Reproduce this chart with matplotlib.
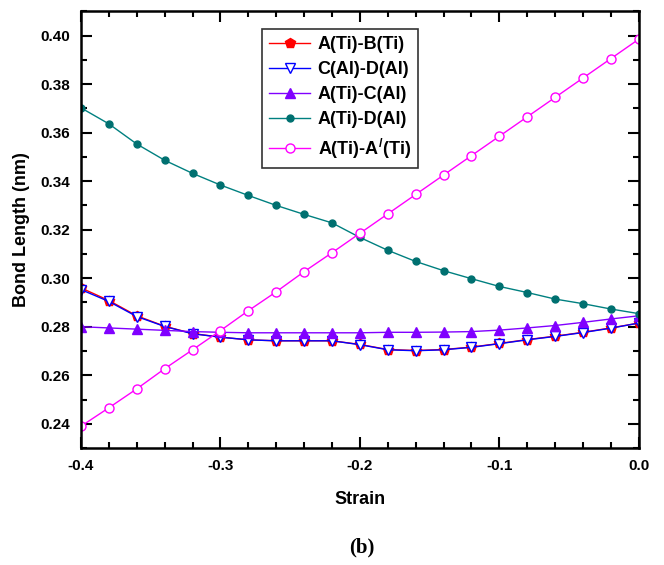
import numpy as np
import matplotlib
matplotlib.use("Agg")
import matplotlib.pyplot as plt
from matplotlib.ticker import MultipleLocator

# 数据
strain = [-0.40, -0.38, -0.36, -0.34, -0.32, -0.30, -0.28, -0.26, -0.24, -0.22, -0.20,
          -0.18, -0.16, -0.14, -0.12, -0.10, -0.08, -0.06, -0.04, -0.02, 0.00]

ti_b_ti = [0.2960, 0.2908, 0.2845, 0.2802, 0.2772, 0.2757, 0.2746, 0.2742, 0.2742, 0.2742, 0.2727,
           0.2706, 0.2702, 0.2706, 0.2716, 0.2731, 0.2747, 0.2761, 0.2777, 0.2795, 0.2815]
al_d_al = [0.2953, 0.2904, 0.2842, 0.2801, 0.2771, 0.2757, 0.2746, 0.2742, 0.2742, 0.2742, 0.2726,
           0.2705, 0.2701, 0.2705, 0.2715, 0.2730, 0.2746, 0.2760, 0.2776, 0.2794, 0.2815]
ti_c_al = [0.2800, 0.2795, 0.2790, 0.2785, 0.2780, 0.2777, 0.2775, 0.2775, 0.2775, 0.2775, 0.2775,
           0.2777, 0.2777, 0.2778, 0.2780, 0.2786, 0.2795, 0.2805, 0.2818, 0.2832, 0.2845]
ti_d_al = [0.3702, 0.3636, 0.3553, 0.3486, 0.3432, 0.3384, 0.3341, 0.3300, 0.3263, 0.3228, 0.3168,
           0.3115, 0.3069, 0.3031, 0.2998, 0.2966, 0.2941, 0.2914, 0.2895, 0.2873, 0.2854]
ti_a_ti = [0.2390, 0.2466, 0.2544, 0.2627, 0.2705, 0.2784, 0.2866, 0.2944, 0.3027, 0.3105, 0.3185,
           0.3265, 0.3345, 0.3425, 0.3505, 0.3585, 0.3665, 0.3745, 0.3825, 0.3905, 0.3985]

labels = ['A(Ti)-B(Ti)', 'C(Al)-D(Al)', 'A(Ti)-C(Al)', 'A(Ti)-D(Al)', 'A(Ti)-A$^{/}$(Ti)']

x_ticks = [-0.4, -0.3, -0.2, -0.1, 0.0]
x_ticklabels = ['-0.4', '-0.3', '-0.2', '-0.1', '0.0']
y_ticks = [0.24, 0.26, 0.28, 0.30, 0.32, 0.34, 0.36, 0.38, 0.40]

plt.rcParams['font.family'] = ['Liberation Sans', 'DejaVu Sans']
plt.rcParams['font.weight'] = 'bold'
plt.rcParams['mathtext.default'] = 'regular'

fig = plt.figure(figsize=(6.64, 5.65), dpi=100)
ax = fig.add_axes([0.122, 0.207, 0.840, 0.773])

ax.plot(strain, ti_b_ti, '-', color='red', marker='p', markersize=7,
        markerfacecolor='red', markeredgecolor='red', linewidth=1, label=labels[0])
ax.plot(strain, al_d_al, '-', color='blue', marker='v', markersize=6.5,
        markerfacecolor='white', markeredgecolor='blue', linewidth=1, label=labels[1])
ax.plot(strain, ti_c_al, '-', color='#8000ff', marker='^', markersize=6.5,
        markerfacecolor='#8000ff', markeredgecolor='#8000ff', linewidth=1, label=labels[2])
ax.plot(strain, ti_d_al, '-', color='#008080', marker='o', markersize=5,
        markerfacecolor='#007070', markeredgecolor='#007070', linewidth=1, label=labels[3])
ax.plot(strain, ti_a_ti, '-', color='#ff00ff', marker='o', markersize=6.5,
        markerfacecolor='white', markeredgecolor='#ff00ff', linewidth=1, label=labels[4])

ax.set_xlim(-0.4, 0.0)
ax.set_ylim(0.23, 0.41)
ax.xaxis.set_minor_locator(MultipleLocator(0.02))
ax.yaxis.set_minor_locator(MultipleLocator(0.01))
ax.set_xticks(x_ticks)
ax.set_xticklabels(x_ticklabels)
ax.set_yticks(y_ticks)
ax.set_yticklabels([f'{v:.2f}' for v in y_ticks])

ax.tick_params(which='both', direction='in', top=True, right=True, width=1.5,
               labelsize=11, pad=8)
ax.tick_params(which='major', length=8)
ax.tick_params(which='minor', length=4)
for s in ax.spines.values():
    s.set_linewidth(1.8)

ax.set_xlabel('Strain', fontsize=13, fontweight='bold', labelpad=13)
ax.set_ylabel('Bond Length (nm)', fontsize=13, fontweight='bold', labelpad=7)

leg = ax.legend(loc='upper left', bbox_to_anchor=(0.324, 0.96), fontsize=13,
                frameon=True, fancybox=False, edgecolor='black', handlelength=2.3,
                borderpad=0.4, labelspacing=0.45, handletextpad=0.4, borderaxespad=0)
leg.get_frame().set_linewidth(1.2)

fig.text(0.545, 0.022, '(b)', fontsize=15, fontweight='bold',
         family=['Liberation Serif', 'DejaVu Serif'], ha='center')

fig.savefig('out.png', dpi=100)
